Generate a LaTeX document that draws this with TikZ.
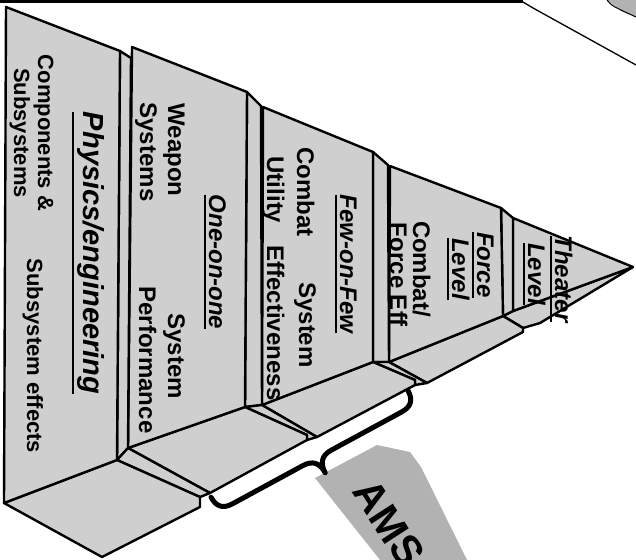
\documentclass[tikz,border=0pt]{standalone}
\usepackage{fontspec}
\setmainfont{Liberation Sans}
\definecolor{slabgray}{gray}{0.81}
\definecolor{taggray}{gray}{0.70}
\newsavebox{\ulbox}
\newcommand{\myul}[1]{\sbox{\ulbox}{#1}\rlap{\rule[\dimexpr-\dp\ulbox-5pt\relax]{\wd\ulbox}{2.2pt}}\usebox{\ulbox}}
\tikzset{
  face/.style={fill=slabgray, draw=black, line width=2.4pt, line join=round},
  lbl/.style={rotate=-90, anchor=base, inner sep=0pt, font=\bfseries\fontsize{24}{28}\selectfont},
  smalllbl/.style={lbl, font=\bfseries\fontsize{22}{26}\selectfont},
  ttl/.style={lbl, font=\bfseries\itshape\fontsize{24}{28}\selectfont},
  bigttl/.style={lbl, font=\bfseries\itshape\fontsize{29}{32}\selectfont},
  bracestroke/.style={line width=5pt, line cap=round, line join=round},
}
\begin{document}
\begin{tikzpicture}[x=1pt,y=-1pt]
\useasboundingbox (0,0) rectangle (636,559);
\clip (0,0) rectangle (636,559);

% page edge remnants
\draw[line width=3pt] (0,1.5) -- (523,1.5);
\draw[line width=1.3pt] (523,2) -- (533,8) -- (636,65);
\fill[taggray] (607,0) -- (636,0) -- (636,17) -- (621,11) -- cycle;
\draw[line width=1pt] (607,0) .. controls (612,6) .. (636,17);

% slab 5 (theater)
\draw[face] (503,316) -- (513,311) -- (633,267) -- (540,323) -- (523,328) -- cycle;
\draw[face] (513,218) -- (633,267) -- (513,311) -- cycle;
% slab 4 (force)
\draw[face] (501,208) -- (513,218) -- (513,311) -- (503,316) -- cycle;
\draw[face] (389,362) -- (503,316) -- (523,328) -- (523,332) -- (427,383) -- cycle;
\draw[face] (390,166) -- (501,208) -- (503,316) -- (389,362) -- cycle;
% slab 3 (few-on-few)
\draw[face] (373,152) -- (388,165) -- (389,362) -- (373,362) -- cycle;
\draw[face] (373,362) -- (389,362) -- (427,383) -- (415,385) -- (415,380) -- cycle;
\draw[face] (262,405) -- (373,362) -- (415,380) -- (415,385) -- (317,437) -- cycle;
\draw[face] (263,107) -- (373,152) -- (373,362) -- (262,405) -- cycle;
% slab 2 (one-on-one)
\draw[face] (247,92) -- (261,106) -- (262,405) -- (245,407) -- cycle;
\draw[face] (245,407) -- (262,405) -- (317,437) -- (307,440) -- (307,435) -- cycle;
\draw[face] (128,448) -- (245,407) -- (307,435) -- (307,440) -- (210,493) -- cycle;
\draw[face] (132,47) -- (247,92) -- (245,407) -- (128,448) -- cycle;
% slab 1 (physics)
\draw[face] (120,51) -- (131,58) -- (128,448) -- (117,460) -- cycle;
\draw[face] (117,460) -- (128,448) -- (210,493) -- (200,497) -- cycle;
\draw[face] (4,503) -- (117,460) -- (200,497) -- (200,507) -- (102,557) -- cycle;
\draw[face] (6,7) -- (120,51) -- (117,460) -- (4,503) -- cycle;

% AMS tag
\fill[taggray] (315,478) -- (377,445) -- (410,452) -- (421,467) -- (472,570) -- (388,570) -- cycle;
\node[rotate=-57, inner sep=0pt, font=\bfseries\fontsize{42}{42}\selectfont] (ams) at (389,523) {AMS};

% brace (drawn along bA -> bB, tip pointing towards the AMS tag)
\coordinate (bA) at (212,499);
\coordinate (bB) at (409,392);
\begin{scope}[shift={(bA)}, rotate=28.5]
  \draw[bracestroke] (0,-2) .. controls (0,9) and (5,14) .. (16,14)
    -- (96,14) .. controls (107,14) and (112,20) .. (112,31)
    .. controls (112,20) and (117,14) .. (128,14)
    -- (208,14) .. controls (219,14) and (224,9) .. (224,-2);
\end{scope}

% slab 1 texts
\node[smalllbl] (comp) at (38,133) {Components \&};
\node[smalllbl] (subs) at (14,133) {Subsystems};
\node[smalllbl] (subeff) at (27,356) {Subsystem effects};
\node[bigttl] (phys) at (83,253) {\myul{Physics/engineering}};
% slab 2 texts
\node[lbl] (weap) at (168,150) {Weapon};
\node[lbl] (wsys) at (140,152) {Systems};
\node[ttl] (one) at (209,262) {\myul{One-on-one}};
\node[lbl] (sys2) at (168,356) {System};
\node[lbl] (perf) at (139,360) {Performance};
% slab 3 texts
\node[lbl] (comb3) at (297,192) {Combat};
\node[lbl] (util) at (267,190) {Utility};
\node[lbl] (sys3) at (299,325) {System};
\node[lbl] (eff) at (267,323) {Effectiveness};
\node[ttl] (few) at (340,264) {\myul{Few-on-Few}};
% slab 4 texts
\node[ttl] (force) at (477,265) {\myul{Force}};
\node[ttl] (lev4) at (452,269) {\myul{Level}};
\node[lbl] (comb4) at (413,269) {Combat/};
\node[lbl] (feff) at (390,275) {Force Eff};
% slab 5 texts
\node[ttl] (theat) at (555,279) {\myul{Theater}};
\node[ttl] (lev5) at (528,274) {\myul{Level}};
\end{tikzpicture}
\end{document}
